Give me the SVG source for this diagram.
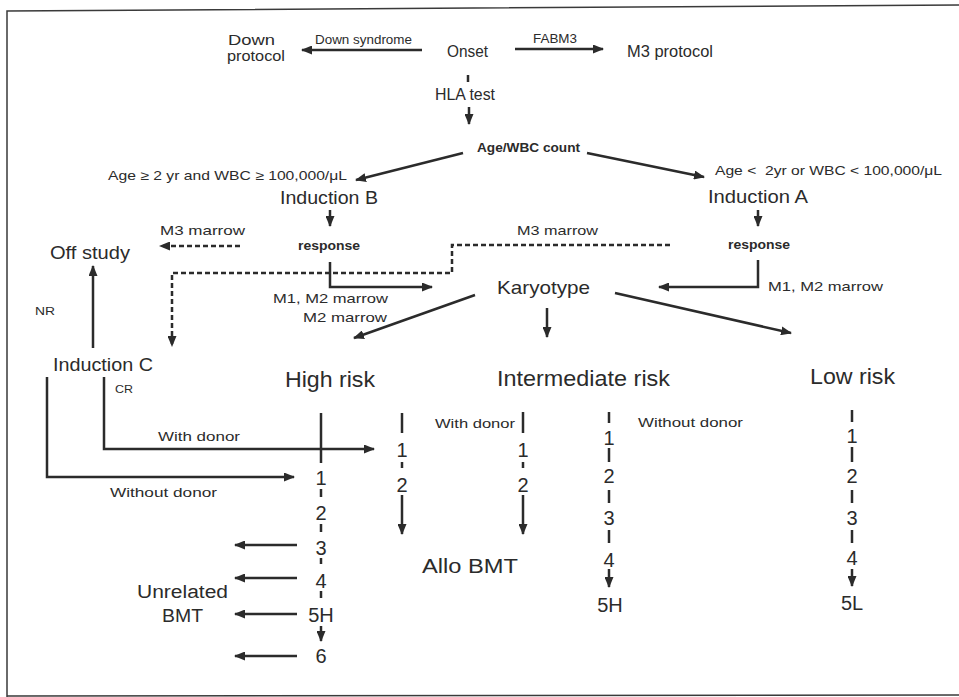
<svg xmlns="http://www.w3.org/2000/svg" width="959" height="697" viewBox="0 0 959 697">
<style>
text{font-family:"Liberation Sans",Arial,sans-serif;fill:#2b2b2b;white-space:pre}
.n14{font-size:14px}
.n17{font-size:17px}
.n18{font-size:18px}
.n19{font-size:19px}
.n20{font-size:20px}
.r{font-size:22px}
.s13{font-size:13px}
.s12{font-size:12px}
.b12{font-size:12px;font-weight:bold}
.s11{font-size:11px}
.d{font-size:20px;text-anchor:middle}
.ln{fill:none;stroke:#2b2b2b;stroke-width:2.5}
.dash{fill:none;stroke:#2b2b2b;stroke-width:2.5;stroke-dasharray:5 3}
.frame{fill:none;stroke:#3a3a3a;stroke-width:1.5}
</style>
<defs>
<marker id="ah" markerUnits="userSpaceOnUse" markerWidth="11" markerHeight="9" refX="10" refY="4.5" orient="auto">
<path d="M0,0 L11,4.5 L0,9 z" fill="#2b2b2b"/>
</marker>
</defs>
<path class="frame" d="M7,697 V11 L959,5"/>
<line class="frame" x1="7" y1="696" x2="959" y2="695"/>

<g id="connectors">
<line class="ln" x1="422" y1="50" x2="302" y2="50" marker-end="url(#ah)"/>
<line class="ln" x1="515" y1="49" x2="603" y2="49" marker-end="url(#ah)"/>
<line class="ln" x1="468" y1="75" x2="468" y2="82"/>
<line class="ln" x1="469" y1="107" x2="469" y2="124" marker-end="url(#ah)"/>
<line class="ln" x1="587" y1="153" x2="704" y2="177" marker-end="url(#ah)"/>
<line class="ln" x1="463" y1="153" x2="356" y2="180" marker-end="url(#ah)"/>
<line class="ln" x1="330" y1="210" x2="330" y2="226" marker-end="url(#ah)"/>
<line class="ln" x1="758" y1="210" x2="758" y2="226" marker-end="url(#ah)"/>
<line class="dash" x1="240" y1="246" x2="160" y2="246" marker-end="url(#ah)"/>
<path class="dash" d="M670,245 H452 V273 H172 V346" marker-end="url(#ah)"/>
<path class="ln" d="M330,262 V287 H432" marker-end="url(#ah)"/>
<path class="ln" d="M758,260 V287 H659" marker-end="url(#ah)"/>
<line class="ln" x1="475" y1="295" x2="354" y2="338" marker-end="url(#ah)"/>
<line class="ln" x1="547" y1="308" x2="547" y2="337" marker-end="url(#ah)"/>
<line class="ln" x1="615" y1="293" x2="791" y2="333" marker-end="url(#ah)"/>
<line class="ln" x1="93" y1="348" x2="93" y2="266" marker-end="url(#ah)"/>
<path class="ln" d="M47,377 V477 H294" marker-end="url(#ah)"/>
<path class="ln" d="M104,377 V449 H374" marker-end="url(#ah)"/>
<!-- high risk column -->
<line class="ln" x1="321" y1="413" x2="321" y2="463"/>
<line class="ln" x1="321" y1="489" x2="321" y2="497"/>
<line class="ln" x1="321" y1="524" x2="321" y2="532"/>
<line class="ln" x1="321" y1="558" x2="321" y2="564"/>
<line class="ln" x1="321" y1="591" x2="321" y2="598"/>
<line class="ln" x1="321" y1="626" x2="321" y2="641" marker-end="url(#ah)"/>
<line class="ln" x1="297" y1="545" x2="235" y2="545" marker-end="url(#ah)"/>
<line class="ln" x1="297" y1="578" x2="235" y2="578" marker-end="url(#ah)"/>
<line class="ln" x1="297" y1="614" x2="235" y2="614" marker-end="url(#ah)"/>
<line class="ln" x1="297" y1="656" x2="235" y2="656" marker-end="url(#ah)"/>
<!-- with donor column (high) -->
<line class="ln" x1="402" y1="413" x2="402" y2="433"/>
<line class="ln" x1="402" y1="462" x2="402" y2="468"/>
<line class="ln" x1="402" y1="495" x2="402" y2="534" marker-end="url(#ah)"/>
<!-- with donor column (intermediate) -->
<line class="ln" x1="523" y1="412" x2="523" y2="433"/>
<line class="ln" x1="523" y1="462" x2="523" y2="468"/>
<line class="ln" x1="523" y1="495" x2="523" y2="534" marker-end="url(#ah)"/>
<!-- without donor column (intermediate) -->
<line class="ln" x1="609" y1="412" x2="609" y2="423"/>
<line class="ln" x1="609" y1="448" x2="609" y2="462"/>
<line class="ln" x1="609" y1="490" x2="609" y2="503"/>
<line class="ln" x1="609" y1="530" x2="609" y2="543"/>
<line class="ln" x1="609" y1="569" x2="609" y2="587" marker-end="url(#ah)"/>
<!-- low risk column -->
<line class="ln" x1="852" y1="410" x2="852" y2="422"/>
<line class="ln" x1="852" y1="447" x2="852" y2="462"/>
<line class="ln" x1="852" y1="490" x2="852" y2="503"/>
<line class="ln" x1="852" y1="530" x2="852" y2="543"/>
<line class="ln" x1="852" y1="569" x2="852" y2="586" marker-end="url(#ah)"/>
</g>

<g id="labels">
<text class="s13" x="315" y="44" textLength="97" lengthAdjust="spacingAndGlyphs">Down syndrome</text>
<text class="s13" x="533" y="43" textLength="44" lengthAdjust="spacingAndGlyphs">FABM3</text>
<text class="s13" x="108" y="180" textLength="239" lengthAdjust="spacingAndGlyphs">Age ≥ 2 yr and WBC ≥ 100,000/μL</text>
<text class="s13" x="715" y="175" textLength="227" lengthAdjust="spacingAndGlyphs">Age &lt;  2yr or WBC &lt; 100,000/μL</text>
<text class="s13" x="160" y="235" textLength="85" lengthAdjust="spacingAndGlyphs">M3 marrow</text>
<text class="s13" x="517" y="235" textLength="81" lengthAdjust="spacingAndGlyphs">M3 marrow</text>
<text class="s13" x="273" y="303" textLength="115" lengthAdjust="spacingAndGlyphs">M1, M2 marrow</text>
<text class="s13" x="303" y="322" textLength="84" lengthAdjust="spacingAndGlyphs">M2 marrow</text>
<text class="s13" x="768" y="291" textLength="115" lengthAdjust="spacingAndGlyphs">M1, M2 marrow</text>
<text class="s11" x="35" y="315" textLength="20" lengthAdjust="spacingAndGlyphs">NR</text>
<text class="s11" x="115" y="393" textLength="18" lengthAdjust="spacingAndGlyphs">CR</text>
<text class="s13" x="158" y="441" textLength="82" lengthAdjust="spacingAndGlyphs">With donor</text>
<text class="s13" x="110" y="497" textLength="107" lengthAdjust="spacingAndGlyphs">Without donor</text>
<text class="s12" x="435" y="428" textLength="80" lengthAdjust="spacingAndGlyphs">With donor</text>
<text class="s12" x="638" y="427" textLength="105" lengthAdjust="spacingAndGlyphs">Without donor</text>
</g>

<g id="down-protocol">
<text class="n17" x="228" y="45" font-size="14" style="font-size:14px" textLength="47" lengthAdjust="spacingAndGlyphs">Down</text>
<text class="n17" x="227" y="61" style="font-size:14px" textLength="58" lengthAdjust="spacingAndGlyphs">protocol</text>
</g>
<g id="onset"><text class="n17" x="447" y="57" textLength="41" lengthAdjust="spacingAndGlyphs">Onset</text></g>
<g id="m3-protocol"><text class="n17" x="627" y="57" textLength="86" lengthAdjust="spacingAndGlyphs">M3 protocol</text></g>
<g id="hla-test"><text class="n17" x="435" y="100" textLength="60" lengthAdjust="spacingAndGlyphs">HLA test</text></g>
<g id="age-wbc"><text class="b12" x="477" y="152" textLength="103" lengthAdjust="spacingAndGlyphs">Age/WBC count</text></g>
<g id="induction-b"><text class="n18" x="280" y="204" textLength="98" lengthAdjust="spacingAndGlyphs">Induction B</text></g>
<g id="induction-a"><text class="n18" x="708" y="203" textLength="100" lengthAdjust="spacingAndGlyphs">Induction A</text></g>
<g id="response-b"><text class="b12" x="298" y="250" textLength="62" lengthAdjust="spacingAndGlyphs">response</text></g>
<g id="response-a"><text class="b12" x="728" y="249" textLength="62" lengthAdjust="spacingAndGlyphs">response</text></g>
<g id="off-study"><text class="n19" x="50" y="259" textLength="80" lengthAdjust="spacingAndGlyphs">Off study</text></g>
<g id="karyotype"><text class="n19" x="497" y="294" textLength="93" lengthAdjust="spacingAndGlyphs">Karyotype</text></g>
<g id="induction-c"><text class="n18" x="53" y="371" textLength="100" lengthAdjust="spacingAndGlyphs">Induction C</text></g>
<g id="high-risk"><text class="r" x="285" y="387" textLength="90" lengthAdjust="spacingAndGlyphs">High risk</text></g>
<g id="intermediate-risk"><text class="r" x="497" y="386" textLength="173" lengthAdjust="spacingAndGlyphs">Intermediate risk</text></g>
<g id="low-risk"><text class="r" x="810" y="384" textLength="85" lengthAdjust="spacingAndGlyphs">Low risk</text></g>

<g id="high-steps">
<text class="d" x="321" y="485">1</text>
<text class="d" x="321" y="520">2</text>
<text class="d" x="321" y="555">3</text>
<text class="d" x="321" y="588">4</text>
<text class="d" x="321" y="622">5H</text>
<text class="d" x="321" y="663">6</text>
</g>
<g id="unrelated-bmt">
<text class="n18" x="137" y="598" textLength="91" lengthAdjust="spacingAndGlyphs">Unrelated</text>
<text class="n18" x="162" y="622" textLength="41" lengthAdjust="spacingAndGlyphs">BMT</text>
</g>
<g id="high-donor-steps">
<text class="d" x="402" y="457">1</text>
<text class="d" x="402" y="492">2</text>
</g>
<g id="inter-donor-steps">
<text class="d" x="523" y="457">1</text>
<text class="d" x="523" y="492">2</text>
</g>
<g id="allo-bmt"><text class="n20" x="422" y="573" textLength="96" lengthAdjust="spacingAndGlyphs">Allo BMT</text></g>
<g id="inter-steps">
<text class="d" x="609" y="445">1</text>
<text class="d" x="609" y="483">2</text>
<text class="d" x="609" y="525">3</text>
<text class="d" x="609" y="567">4</text>
<text class="d" x="610" y="612">5H</text>
</g>
<g id="low-steps">
<text class="d" x="852" y="443">1</text>
<text class="d" x="852" y="483">2</text>
<text class="d" x="852" y="525">3</text>
<text class="d" x="852" y="565">4</text>
<text class="d" x="852" y="610">5L</text>
</g>
</svg>
